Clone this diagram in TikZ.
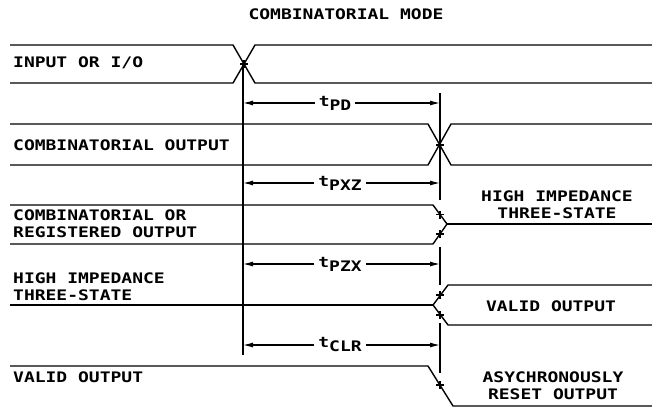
\documentclass[tikz,border=0pt]{standalone}
\usepackage{fontspec}
\setsansfont{DejaVu Sans Mono}[FakeStretch=1.24]
\usepackage{tikz}
\usetikzlibrary{arrows.meta,positioning}
\tikzstyle{every picture}+=[font={\sffamily\bfseries\fontsize{14.5}{17}\selectfont}]
\tikzset{%
  signal/.style={line width=1.4pt, line join=round},
  marker/.style={line width=1.4pt},
  dimarrow/.style={line width=1.2pt, -{Latex[length=10pt,width=5pt]}},
  timing/.style={fill=white, inner sep=4pt},
  caption/.style={inner sep=0pt, align=left, anchor=west},
  state/.style={inner sep=0pt, align=center},
  tickplus/.pic={\draw[marker] (-4,0) -- (4,0) (0,-4) -- (0,4);}
}
\begin{document}
\begin{tikzpicture}[x=1pt,y=-1pt]
        \useasboundingbox (0,0) rectangle (652,408);
        \node (TITLE)[state] at (346,14) {COMBINATORIAL MODE};

        % input or i/o
        \node (INPUT)[caption] at (13,63) {INPUT OR I/O};
        \draw[signal] (10,45) -- (233,45) -- (255,83) -- (652,83);
        \draw[signal] (10,83) -- (233,83) -- (255,45) -- (652,45);
        \pic at (244,64) {tickplus};

        % combinatorial output
        \node (COMBOUT)[caption] at (13,145) {COMBINATORIAL OUTPUT};
        \draw[signal] (10,124) -- (428,124) -- (451,165) -- (652,165);
        \draw[signal] (10,165) -- (428,165) -- (451,124) -- (652,124);
        \pic at (440,145) {tickplus};

        % combinatorial or registered output
        \node (REGOUT)[caption] at (13,223.5) {COMBINATORIAL OR\\REGISTERED OUTPUT};
        \node (HIGHZ)[state] at (557,205) {HIGH IMPEDANCE\\THREE-STATE};
        \draw[signal] (10,205) -- (433,205) -- (447,224) -- (433,244) -- (10,244);
        \draw[signal] (447,224) -- (652,224);
        \pic at (440,214.5) {tickplus};
        \pic at (440,234) {tickplus};

        % high impedance three-state
        \node (THREESTATE)[caption] at (13,286.5) {HIGH IMPEDANCE\\THREE-STATE};
        \node (VALID)[state] at (551,306) {VALID OUTPUT};
        \draw[signal] (652,285) -- (448,285) -- (433,305) -- (448,325) -- (652,325);
        \draw[signal] (10,305) -- (433,305);
        \pic at (440,295) {tickplus};
        \pic at (440,315) {tickplus};

        % valid output
        \node (VALIDIN)[caption] at (13,377) {VALID OUTPUT};
        \node (RESET)[state] at (553,386) {ASYCHRONOUSLY\\RESET OUTPUT};
        \draw[signal] (10,366) -- (428,366) -- (453,406) -- (652,406);
        \pic at (440,385) {tickplus};

        % reference lines
        \coordinate (REFTOP) at (243,64);
        \coordinate (REFBOT) at (243,355);
        \draw[marker] (REFTOP) -- (REFBOT);
        \draw[marker] (440,93) -- (440,200) (440,247) -- (440,285) (440,323) -- (440,373);

        % delays
        \coordinate (PDL) at (243,103);
        \coordinate (PDR) at (440,103);
        \node (TPD)[timing] at (335,103) {t\raisebox{-4pt}{PD}};
        \draw[dimarrow] (TPD) -- (PDL);
        \draw[dimarrow] (TPD) -- (PDR);

        \coordinate (PXZL) at (243,183);
        \coordinate (PXZR) at (440,183);
        \node (TPXZ)[timing] at (340,183) {t\raisebox{-4pt}{PXZ}};
        \draw[dimarrow] (TPXZ) -- (PXZL);
        \draw[dimarrow] (TPXZ) -- (PXZR);

        \coordinate (PZXL) at (243,264);
        \coordinate (PZXR) at (440,264);
        \node (TPZX)[timing] at (340,264) {t\raisebox{-4pt}{PZX}};
        \draw[dimarrow] (TPZX) -- (PZXL);
        \draw[dimarrow] (TPZX) -- (PZXR);

        \coordinate (CLRL) at (243,345);
        \coordinate (CLRR) at (440,345);
        \node (TCLR)[timing] at (340,345) {t\raisebox{-4pt}{CLR}};
        \draw[dimarrow] (TCLR) -- (CLRL);
        \draw[dimarrow] (TCLR) -- (CLRR);
    \end{tikzpicture}
\end{document}
